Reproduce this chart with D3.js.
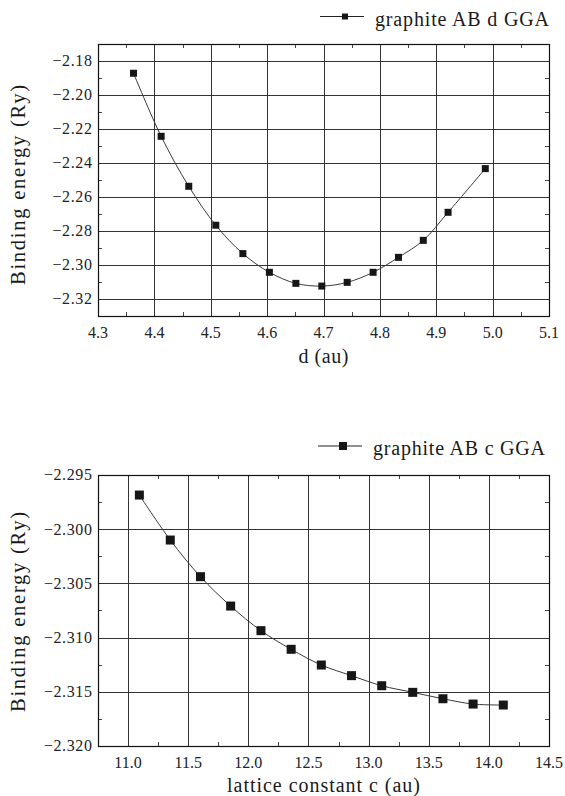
<!DOCTYPE html>
<html>
<head>
<meta charset="utf-8">
<script src="https://cdn.jsdelivr.net/npm/d3@7"></script>
<style>
  html, body { margin: 0; padding: 0; background: #fff; }
  svg { display: block; }
</style>
</head>
<body>
<svg id="chart" width="565" height="796"></svg>
<script>
// Interlayer distance d (au) vs binding energy (Ry)
const dValues = [4.363, 4.412, 4.461, 4.509, 4.557, 4.604, 4.651, 4.697, 4.742, 4.788, 4.833, 4.877, 4.921, 4.987];
const dEnergy = [-2.1872, -2.2243, -2.2537, -2.2766, -2.2933, -2.3043, -2.3108, -2.3124, -2.3102, -2.3043, -2.2955, -2.2855, -2.2690, -2.2433];
const dTicksX = [4.3, 4.4, 4.5, 4.6, 4.7, 4.8, 4.9, 5.0, 5.1];
const dTicksY = [-2.18, -2.20, -2.22, -2.24, -2.26, -2.28, -2.30, -2.32];

// Lattice constant c (au) vs binding energy (Ry)
const cValues = [11.094, 11.351, 11.602, 11.853, 12.105, 12.356, 12.607, 12.858, 13.109, 13.367, 13.618, 13.869, 14.120];
const cEnergy = [-2.29685, -2.30100, -2.30438, -2.30709, -2.30936, -2.31108, -2.31253, -2.31351, -2.31444, -2.31505, -2.31564, -2.31613, -2.31622];
const cTicksX = [11.0, 11.5, 12.0, 12.5, 13.0, 13.5, 14.0, 14.5];
const cTicksY = [-2.295, -2.300, -2.305, -2.310, -2.315, -2.320];

const FONT = "Liberation Serif";
const svg = d3.select("#chart");
const minus = s => s.replace("-", "\u2212");

function panel(cfg) {
  const g = svg.append("g");
  const { left, right, top, bottom } = cfg.box;
  const x = d3.scaleLinear().domain(cfg.xDomain).range([left, right]);
  const y = d3.scaleLinear().domain(cfg.yDomain).range([bottom, top]);
  const px = v => Math.round(v) + 0.5;

  // grid lines at major ticks
  g.append("g").selectAll("line").data(cfg.xTicks.filter(t => x(t) > left + 1 && x(t) < right - 1))
    .join("line")
    .attr("x1", d => px(x(d))).attr("x2", d => px(x(d)))
    .attr("y1", top).attr("y2", bottom)
    .attr("stroke", "#333").attr("stroke-width", 1);
  g.append("g").selectAll("line").data(cfg.yTicks.filter(t => y(t) > top + 1 && y(t) < bottom - 1))
    .join("line")
    .attr("y1", d => px(y(d))).attr("y2", d => px(y(d)))
    .attr("x1", left).attr("x2", right)
    .attr("stroke", "#333").attr("stroke-width", 1);

  // minor ticks on all four sides, pointing inward
  const xMinor = d3.range(cfg.xDomain[0], cfg.xDomain[1] + 1e-9, cfg.xMinorStep)
    .filter(v => !cfg.xTicks.some(t => Math.abs(t - v) < 1e-6));
  const yMinor = d3.range(cfg.yDomain[0], cfg.yDomain[1] + 1e-9, cfg.yMinorStep)
    .filter(v => !cfg.yTicks.some(t => Math.abs(t - v) < 1e-6));
  const tl = 4;
  const mt = g.append("g").attr("stroke", "#444").attr("stroke-width", 1);
  mt.selectAll(".xb").data(xMinor).join("line")
    .attr("x1", d => px(x(d))).attr("x2", d => px(x(d)))
    .attr("y1", bottom).attr("y2", bottom - tl);
  mt.selectAll(".xt").data(xMinor).join("line")
    .attr("x1", d => px(x(d))).attr("x2", d => px(x(d)))
    .attr("y1", top).attr("y2", top + tl);
  mt.selectAll(".yl").data(yMinor).join("line")
    .attr("y1", d => px(y(d))).attr("y2", d => px(y(d)))
    .attr("x1", left).attr("x2", left + tl);
  mt.selectAll(".yr").data(yMinor).join("line")
    .attr("y1", d => px(y(d))).attr("y2", d => px(y(d)))
    .attr("x1", right).attr("x2", right - tl);

  // frame
  g.append("rect")
    .attr("x", left + 0.5).attr("y", top + 0.5)
    .attr("width", right - left).attr("height", bottom - top)
    .attr("fill", "none").attr("stroke", "#111").attr("stroke-width", 1.2);

  // tick labels
  g.append("g").selectAll("text").data(cfg.xTicks).join("text")
    .attr("font-family", FONT).attr("fill", "#222")
    .attr("x", d => x(d)).attr("y", bottom + 21.5)
    .attr("text-anchor", "middle").attr("font-size", 16)
    .text(d => d.toFixed(1));
  g.append("g").selectAll("text").data(cfg.yTicks).join("text")
    .attr("font-family", FONT).attr("fill", "#222")
    .attr("x", left - 5.5).attr("y", d => y(d) + 5.4)
    .attr("text-anchor", "end").attr("font-size", 16)
    .attr("letter-spacing", 0.6)
    .text(d => minus(d.toFixed(cfg.yDigits)));

  // axis titles
  g.append("text")
    .attr("font-family", FONT).attr("fill", "#1a1a1a")
    .attr("x", (left + right) / 2 - cfg.xTitleLen / 2).attr("y", cfg.xTitleY)
    .attr("font-size", 20)
    .attr("textLength", cfg.xTitleLen).attr("lengthAdjust", "spacing")
    .text(cfg.xTitle);
  g.append("text")
    .attr("font-family", FONT).attr("fill", "#1a1a1a")
    .attr("transform", `translate(24.5,${cfg.yTitleMid + 100}) rotate(-90)`)
    .attr("font-size", 20.5)
    .attr("textLength", 200).attr("lengthAdjust", "spacing")
    .text("Binding energy (Ry)");

  // smooth curve through the data
  const pts = cfg.xs.map((v, i) => [v, cfg.ys[i]]);
  g.append("path").datum(pts)
    .attr("d", d3.line().x(d => x(d[0])).y(d => y(d[1])).curve(d3.curveCatmullRom.alpha(0.5)))
    .attr("fill", "none").attr("stroke", "#3a3a3a").attr("stroke-width", 1);

  // square markers
  const s = cfg.marker;
  g.append("g").selectAll("rect").data(pts).join("rect")
    .attr("x", d => x(d[0]) - s / 2).attr("y", d => y(d[1]) - s / 2)
    .attr("width", s).attr("height", s).attr("fill", "#161616");

  // legend
  const lg = g.append("g");
  const ly = cfg.legendY;
  const lx = cfg.legendX;
  lg.append("line").attr("x1", lx).attr("x2", lx + 44)
    .attr("y1", ly).attr("y2", ly).attr("stroke", "#222").attr("stroke-width", 1.2);
  lg.append("rect").attr("x", lx + 25 - cfg.legendMarker / 2).attr("y", ly - cfg.legendMarker / 2)
    .attr("width", cfg.legendMarker).attr("height", cfg.legendMarker).attr("fill", "#161616");
  lg.append("text").attr("font-family", FONT).attr("fill", "#1a1a1a")
    .attr("x", lx + 55).attr("y", ly + 9)
    .attr("font-size", 20)
    .attr("textLength", cfg.legendLen).attr("lengthAdjust", "spacing")
    .text(cfg.legend);
}

panel({
  box: { left: 98, right: 549, top: 44, bottom: 316 },
  xDomain: [4.3, 5.1], yDomain: [-2.33, -2.17],
  xTicks: dTicksX, yTicks: dTicksY, yDigits: 2,
  xMinorStep: 0.05, yMinorStep: 0.01,
  xs: dValues, ys: dEnergy, marker: 7,
  xTitle: "d (au)", xTitleY: 363, xTitleLen: 50,
  yTitleMid: 185,
  legend: "graphite AB d GGA", legendX: 320, legendY: 16.5, legendLen: 174, legendMarker: 6
});

panel({
  box: { left: 98, right: 549, top: 475, bottom: 746 },
  xDomain: [10.75, 14.5], yDomain: [-2.320, -2.295],
  xTicks: cTicksX, yTicks: cTicksY, yDigits: 3,
  xMinorStep: 0.25, yMinorStep: 0.0025,
  xs: cValues, ys: cEnergy, marker: 9,
  xTitle: "lattice constant c (au)", xTitleY: 791.5, xTitleLen: 193,
  yTitleMid: 612,
  legend: "graphite AB c GGA", legendX: 318, legendY: 446, legendLen: 172, legendMarker: 8
});
</script>
</body>
</html>
